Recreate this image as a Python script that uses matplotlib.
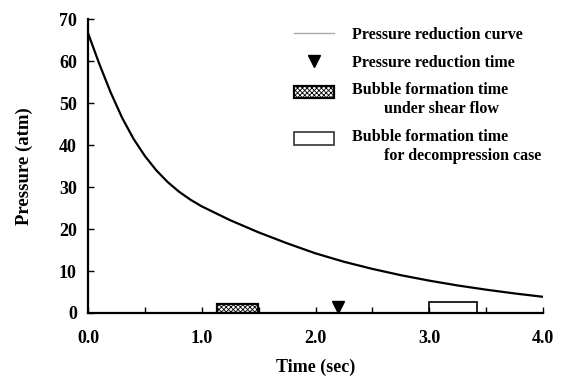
import matplotlib
matplotlib.use("Agg")
import matplotlib.pyplot as plt
from matplotlib.lines import Line2D
from matplotlib.patches import Patch, Rectangle
from matplotlib.legend_handler import HandlerPatch

plt.rcParams['font.family'] = ['Liberation Serif', 'DejaVu Serif']
plt.rcParams['font.weight'] = 'bold'
plt.rcParams['hatch.linewidth'] = 0.6

time_s = [0.0, 0.1, 0.2, 0.3, 0.4, 0.5, 0.6, 0.7, 0.8, 0.9, 1.0, 1.25, 1.5, 1.75,
          2.0, 2.25, 2.5, 2.75, 3.0, 3.25, 3.5, 3.75, 4.0]
pressure_atm = [66.7, 59.3, 52.5, 46.5, 41.5, 37.4, 34.0, 31.2, 28.9, 27.0, 25.4, 22.1,
                19.2, 16.6, 14.2, 12.2, 10.5, 9.0, 7.7, 6.55, 5.55, 4.65, 3.85]

shear_start, shear_end, shear_height = 1.13, 1.49, 2.1
decomp_start, decomp_end, decomp_height = 3.0, 3.42, 2.6
reduction_time, reduction_marker_y = 2.2, 1.5

xticks = [0.0, 1.0, 2.0, 3.0, 4.0]
xtick_labels = ["0.0", "1.0", "2.0", "3.0", "4.0"]
yticks = [0, 10, 20, 30, 40, 50, 60, 70]

fig = plt.figure(figsize=(5.64, 3.76), dpi=100)
ax = fig.add_axes([0.156, 0.1676, 0.807, 0.7814])

ax.plot(time_s, pressure_atm, color='black', lw=1.6, solid_capstyle='round',
        solid_joinstyle='round')
ax.bar(shear_start, shear_height, width=shear_end - shear_start, align='edge',
       facecolor='white', edgecolor='black', hatch='xxxxxxx', lw=1.6)
ax.bar(decomp_start, decomp_height, width=decomp_end - decomp_start, align='edge',
       facecolor='white', edgecolor='black', lw=1.2)
ax.plot([reduction_time], [reduction_marker_y], marker='v', color='black', ms=8.5, ls='none')

ax.set_xlim(0, 4.0)
ax.set_ylim(0, 70)
ax.set_xticks(xticks)
ax.set_xticklabels(xtick_labels)
ax.set_xticks([0.5, 1.5, 2.5, 3.5], minor=True)
ax.set_yticks(yticks)
ax.tick_params(axis='both', which='both', direction='in', width=1, labelsize=13)
ax.tick_params(axis='both', which='major', length=4)
ax.tick_params(axis='x', which='minor', length=4)
ax.tick_params(axis='x', pad=12)
ax.tick_params(axis='y', pad=8)
for s in ['top', 'right']:
    ax.spines[s].set_visible(False)
for s in ['left', 'bottom']:
    ax.spines[s].set_linewidth(1.6)

ax.set_xlabel('Time (sec)', fontsize=13, fontweight='bold', labelpad=9)
ax.set_ylabel('Pressure (atm)', fontsize=13.5, fontweight='bold', labelpad=19)


def top_aligned_box(legend, orig_handle, xdescent, ydescent, width, height, fontsize):
    shift = 0.5 * fontsize
    return Rectangle((-xdescent, -ydescent + shift), width, height)


handles = [
    Line2D([], [], color='#aaaaaa', lw=1),
    Line2D([], [], color='black', marker='v', ls='none', ms=8),
    Patch(facecolor='white', edgecolor='black', hatch='xxxxxxx', lw=1.6),
    Patch(facecolor='white', edgecolor='#333333', lw=1.2),
]
labels = [
    'Pressure reduction curve',
    'Pressure reduction time',
    'Bubble formation time\n        under shear flow',
    'Bubble formation time\n        for decompression case',
]
leg = ax.legend(handles, labels, loc='upper left', bbox_to_anchor=(0.453, 0.973),
                frameon=False, fontsize=11.5, handlelength=2.5, handleheight=0.8,
                labelspacing=0.72, handletextpad=1.1, borderpad=0, borderaxespad=0,
                handler_map={Patch: HandlerPatch(patch_func=top_aligned_box)})
for txt in leg.get_texts():
    txt.set_linespacing(1.25)

fig.savefig('out.png', dpi=100)
